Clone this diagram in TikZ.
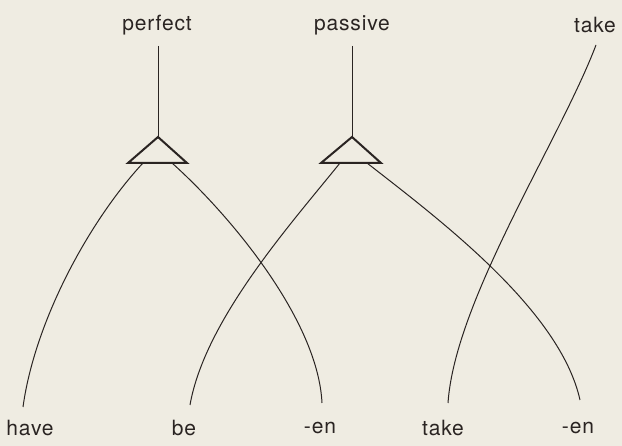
\documentclass[tikz,border=0pt]{standalone}
\usepackage{fontspec}
\setmainfont[LetterSpace=4]{TeX Gyre Heros}
\definecolor{bg}{HTML}{EFECE2}
\definecolor{ink}{HTML}{2A2422}
\begin{document}
\begin{tikzpicture}[x=1pt,y=-1pt,
  lbl/.style={font=\fontsize{21}{25}\selectfont, text=ink, inner sep=0pt},
  arc/.style={draw=ink, line width=1pt},
  tri/.style={draw=ink, line width=2pt, line join=miter}]
\fill[bg] (0,0) rectangle (622,446);
\useasboundingbox (0,0) rectangle (622,446);
% top labels
\node[lbl] (perf) at (157,25) {perfect};
\node[lbl] (pass) at (352,25) {passive};
\node[lbl] (takeT) at (595,25) {take};
% bottom labels
\node[lbl] (have) at (30,428) {have};
\node[lbl] (be) at (184,428) {be};
\node[lbl] (en1) at (320,428) {-en};
\node[lbl] (takeB) at (443,428) {take};
\node[lbl] (en2) at (578,428) {-en};
% triangles
\coordinate (pA) at (158,137);
\coordinate (pL) at (128,163);
\coordinate (pR) at (187,163);
\coordinate (qA) at (352,137);
\coordinate (qL) at (321,163);
\coordinate (qR) at (381,163);
\draw[tri] (pA) -- (pL) -- (pR) -- cycle;
\draw[tri] (qA) -- (qL) -- (qR) -- cycle;
% connector ends
\coordinate (pt) at (158,46);
\coordinate (qt) at (352,46);
\coordinate (tt) at (596,45);
\coordinate (p1) at (143,163);
\coordinate (p2) at (172,163);
\coordinate (q1) at (340,163);
\coordinate (q2) at (367,163);
\coordinate (hE) at (23,407);
\coordinate (bE) at (190,405);
\coordinate (e1E) at (322,403);
\coordinate (tE) at (448,403);
\coordinate (e2E) at (580,400);
\draw[arc] (pt) -- (pA);
\draw[arc] (qt) -- (qA);
\draw[arc] (p1) .. controls (90,220) and (35,320) .. (hE);
\draw[arc] (p2) .. controls (230,215) and (318,320) .. (e1E);
\draw[arc] (q1) .. controls (290,225) and (205,320) .. (bE);
\draw[arc] (q2) .. controls (440,220) and (560,310) .. (e2E);
\draw[arc] (tt) .. controls (560,140) and (455,300) .. (tE);
\end{tikzpicture}
\end{document}
